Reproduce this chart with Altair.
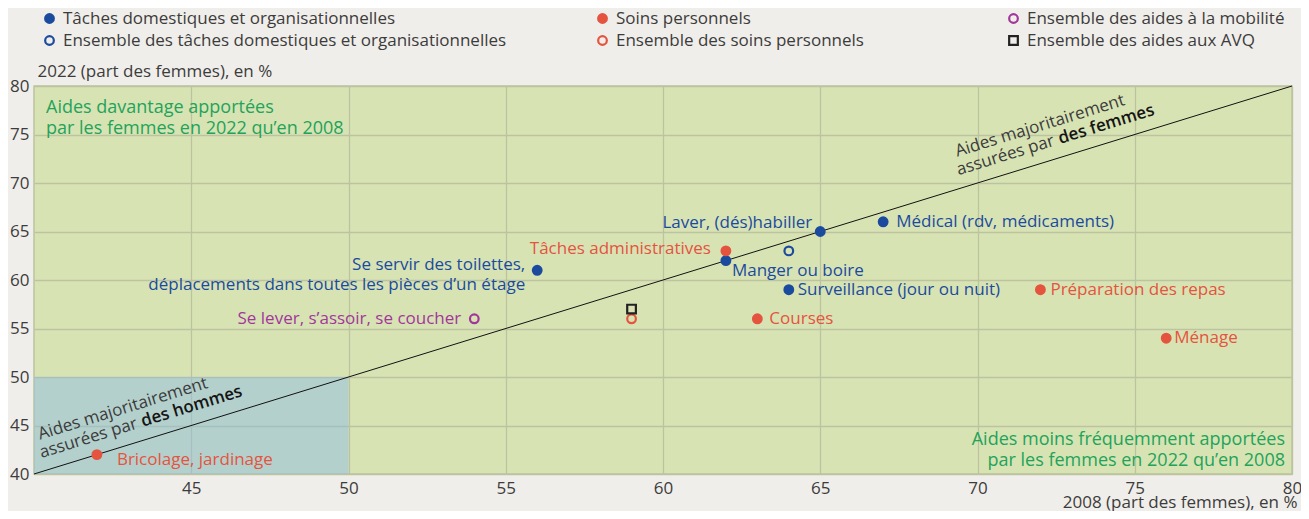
import altair as alt
import pandas as pd

FONT = "Open Sans"
BLUE = "#1b4b9e"
RED = "#e4543f"
PURPLE = "#a2379b"
BLACK = "#222222"
GREEN_TXT = "#22a35a"
TXT = "#3c3c3c"
GRID = "#bcc39f"

# ---------------- data ----------------
dom_labels = ["Se servir des toilettes,\ndéplacements dans toutes les pièces d’un étage",
              "Laver, (dés)habiller", "Manger ou boire",
              "Médical (rdv, médicaments)", "Surveillance (jour ou nuit)"]
dom_2008 = [56, 65, 62, 67, 64]
dom_2022 = [61, 65, 62, 66, 59]
dom_total_2008 = [64]
dom_total_2022 = [63]

soins_labels = ["Tâches administratives", "Courses", "Préparation des repas",
                "Ménage", "Bricolage, jardinage"]
soins_2008 = [62, 63, 72, 76, 42]
soins_2022 = [63, 56, 59, 54, 42]
soins_total_2008 = [59]
soins_total_2022 = [56]

mob_labels = ["Se lever, s’assoir, se coucher"]
mob_2008 = [54]
mob_2022 = [56]
avq_total_2008 = [59]
avq_total_2022 = [57]

legend_names = ["Tâches domestiques et organisationnelles",
                "Ensemble des tâches domestiques et organisationnelles",
                "Soins personnels", "Ensemble des soins personnels",
                "Ensemble des aides à la mobilité", "Ensemble des aides aux AVQ"]

x_ticks = [45, 50, 55, 60, 65, 70, 75, 80]
y_ticks = [40, 45, 50, 55, 60, 65, 70, 75, 80]
domain_min, domain_max = 40, 80
men_zone = {"x": [40], "x2": [50], "y": [40], "y2": [50]}

# label placement (pixel offsets, alignment) - styling only
label_style = {
    dom_labels[0]: (-12, -5, "right"),
    dom_labels[1]: (-8, -9, "right"),
    dom_labels[2]: (6, 10, "left"),
    dom_labels[3]: (13, 0, "left"),
    dom_labels[4]: (9, 0, "left"),
    soins_labels[0]: (-15, -2, "right"),
    soins_labels[1]: (12, 0, "left"),
    soins_labels[2]: (10, 0, "left"),
    soins_labels[3]: (8, 0, "left"),
    soins_labels[4]: (20, 5, "left"),
    mob_labels[0]: (-13, 0, "right"),
}

# ---------------- helpers ----------------
xscale = alt.Scale(domain=[domain_min, domain_max], nice=False, zero=False)
yscale = alt.Scale(domain=[domain_min, domain_max], nice=False, zero=False)
xaxis = alt.Axis(values=x_ticks, title="2008 (part des femmes), en %", grid=True,
                 tickSize=0, domain=False, labelFlush=False, labelPadding=6,
                 labelFontSize=17, labelColor=TXT, titleFontSize=17,
                 titleFontWeight="normal", titleColor=TXT, titleX=1263, titleY=33,
                 titleAlign="right", titleBaseline="alphabetic", labelOverlap=False)
yaxis = alt.Axis(values=y_ticks, title="2022 (part des femmes), en %", grid=True,
                 tickSize=0, domain=False, labelFlush=False, labelPadding=5,
                 labelFontSize=17, labelColor=TXT, titleFontSize=17,
                 titleFontWeight="normal", titleColor=TXT, titleAngle=0, titleX=3,
                 titleY=-10, titleAlign="left", titleBaseline="alphabetic",
                 labelOverlap=False)


def X(f="x"):
    return alt.X(f"{f}:Q", scale=xscale, axis=xaxis)


def Y(f="y"):
    return alt.Y(f"{f}:Q", scale=yscale, axis=yaxis)


layers = []

# men zone rectangle (semi-transparent so the grid shows through)
layers.append(alt.Chart(pd.DataFrame(men_zone)).mark_rect(
    color="#8fbde4", opacity=0.5).encode(
    x=X(), x2="x2:Q", y=Y(), y2="y2:Q"))

# diagonal
diag = pd.DataFrame({"x": [domain_min, domain_max], "y": [domain_min, domain_max]})
layers.append(alt.Chart(diag).mark_line(color="#111111", strokeWidth=1).encode(x=X(), y=Y()))


def anchor_text(xv, yv, text, dx, dy, align, color, size=18, weight="normal",
                angle=0):
    df = pd.DataFrame({"x": [xv], "y": [yv], "t": [text]})
    kw = dict(dx=dx, dy=dy, align=align, baseline="alphabetic", color=color,
              fontSize=size, fontWeight=weight, font=FONT)
    if angle:
        kw["angle"] = angle
    return alt.Chart(df).mark_text(**kw).encode(x=X(), y=Y(), text="t:N")


# quadrant notes
layers.append(anchor_text(domain_min, domain_max, "Aides davantage apportées", 12, 27, "left", GREEN_TXT))
layers.append(anchor_text(domain_min, domain_max, "par les femmes en 2022 qu’en 2008", 12, 48, "left", GREEN_TXT))
layers.append(anchor_text(domain_max, domain_min, "Aides moins fréquemment apportées", -7, -29, "right", GREEN_TXT))
layers.append(anchor_text(domain_max, domain_min, "par les femmes en 2022 qu’en 2008", -7, -8, "right", GREEN_TXT))

# diagonal notes
ANG = 342.86
for pos, who in [(72.66, "des femmes"), (43.5, "des hommes")]:
    layers.append(anchor_text(pos, pos, "Aides majoritairement", -11, -31, "center", TXT, 17, angle=ANG))
    layers.append(anchor_text(pos, pos, "assurées par", -2, -13, "right", TXT, 17, angle=ANG))
    layers.append(anchor_text(pos, pos, who, 3, -13, "left", "#151515", 17, 600, ANG))

# point labels
for labels, xs, ys, col in [(dom_labels, dom_2008, dom_2022, BLUE),
                            (soins_labels, soins_2008, soins_2022, RED),
                            (mob_labels, mob_2008, mob_2022, PURPLE)]:
    for lab, xv, yv in zip(labels, xs, ys):
        dx, dy, al = label_style[lab]
        df = pd.DataFrame({"x": [xv], "y": [yv], "t": [lab]})
        layers.append(alt.Chart(df).mark_text(
            dx=dx, dy=dy, align=al, baseline="middle", color=col, fontSize=17,
            fontWeight=500, font=FONT, lineBreak="\n", lineHeight=20).encode(
            x=X(), y=Y(), text="t:N"))


def point_layer(xs, ys, cats, domain, fills, strokes, shapes, lx):
    df = pd.DataFrame({"x": xs, "y": ys, "cat": cats})
    leg = alt.Legend(title=None, orient="none", legendX=lx, legendY=-76,
                     labelFontSize=17, labelColor=TXT, labelFont=FONT,
                     labelLimit=700, rowPadding=3, labelOffset=5, padding=0,
                     symbolSize=75, symbolStrokeWidth=2.2, symbolOpacity=1,
                     direction="vertical")
    return alt.Chart(df).mark_point(size=75, strokeWidth=2.2, opacity=1).encode(
        x=X(), y=Y(),
        fill=alt.Fill("cat:N", scale=alt.Scale(domain=domain, range=fills), legend=leg),
        stroke=alt.Stroke("cat:N", scale=alt.Scale(domain=domain, range=strokes), legend=leg),
        shape=alt.Shape("cat:N", scale=alt.Scale(domain=domain, range=shapes), legend=leg),
    )


layers.append(point_layer(
    dom_2008 + dom_total_2008, dom_2022 + dom_total_2022,
    [legend_names[0]] * len(dom_2008) + [legend_names[1]],
    legend_names[0:2], [BLUE, "transparent"], [BLUE, BLUE], ["circle", "circle"], 7))
layers.append(point_layer(
    soins_2008 + soins_total_2008, soins_2022 + soins_total_2022,
    [legend_names[2]] * len(soins_2008) + [legend_names[3]],
    legend_names[2:4], [RED, "transparent"], [RED, RED], ["circle", "circle"], 560))
layers.append(point_layer(
    mob_2008 + avq_total_2008, mob_2022 + avq_total_2022,
    [legend_names[4], legend_names[5]],
    legend_names[4:6], ["transparent", "transparent"], [PURPLE, BLACK],
    ["circle", "square"], 971))

chart = alt.layer(*layers).resolve_scale(
    fill="independent", stroke="independent", shape="independent"
).resolve_legend(
    fill="independent", stroke="independent", shape="independent"
).properties(
    width=1258, height=388, autosize=alt.AutoSizeParams(type="none"),
    padding={"left": 26, "top": 78, "right": 9, "bottom": 37},
    background="#f0eeea",
).configure(
    font=FONT
).configure_view(
    fill="#d8e3b4", stroke=GRID, strokeWidth=1.5
).configure_axis(
    gridColor=GRID, gridWidth=1.3, gridOpacity=1, labelFont=FONT, titleFont=FONT
)

chart.save("out.html", embed_options={"renderer": "svg", "actions": False})
